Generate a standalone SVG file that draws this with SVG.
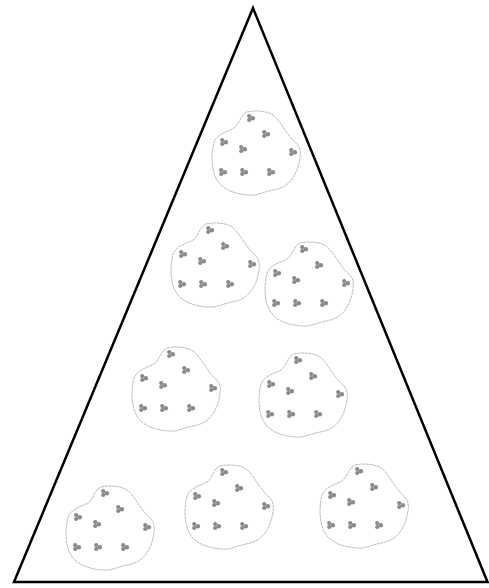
<svg xmlns="http://www.w3.org/2000/svg" xmlns:xlink="http://www.w3.org/1999/xlink" width="489" height="588" viewBox="0 0 489 588">
<style>
.tri{fill:#fff;stroke:#000;stroke-width:2.5;stroke-linejoin:miter}
.outline{fill:none;stroke:#a8a8a8;stroke-width:0.8;stroke-dasharray:3 0.6}
.dot{fill:#8a8a8a}
</style>
<defs>
<g id="d">
<circle cx="-1.8" cy="-1.9" r="2.1" class="dot"/>
<circle cx="-1.8" cy="2" r="2.1" class="dot"/>
<circle cx="1.8" cy="0.2" r="2.3" class="dot"/>
</g>
<g id="blob">
<path class="outline" d="M-4,-6 C5,-8 16,-7 22,-3 C30,3 36,18 46,26 C51,31 50,40 46,52 C41,64 34,70 22,72 C12,74 6,78 -2,77 C-16,76 -28,72 -34,62 C-40,52 -40,36 -37,24 C-33,15 -24,14 -17,10 C-11,6 -11,-3 -4,-6 Z"/>
<use xlink:href="#d" x="0" y="0"/>
<use xlink:href="#d" x="15" y="16"/>
<use xlink:href="#d" x="-27" y="24"/>
<use xlink:href="#d" x="-8" y="31"/>
<use xlink:href="#d" x="42" y="34"/>
<use xlink:href="#d" x="-28" y="54"/>
<use xlink:href="#d" x="-7" y="54"/>
<use xlink:href="#d" x="20" y="54"/>
</g>
</defs>
<rect width="489" height="588" fill="#fff"/>
<g id="pyramid"><polygon class="tri" points="253,8 14,582 487.5,582"/></g>
<g id="group1"><use xlink:href="#blob" x="251" y="118"/></g>
<g id="group2"><use xlink:href="#blob" x="210" y="230"/></g>
<g id="group3"><use xlink:href="#blob" x="304" y="249"/></g>
<g id="group4"><use xlink:href="#blob" x="171" y="354"/></g>
<g id="group5"><use xlink:href="#blob" x="298" y="360"/></g>
<g id="group6"><use xlink:href="#blob" x="105" y="493"/></g>
<g id="group7"><use xlink:href="#blob" x="224" y="472"/></g>
<g id="group8"><use xlink:href="#blob" x="359" y="471"/></g>
<g id="connectors"></g>
</svg>
